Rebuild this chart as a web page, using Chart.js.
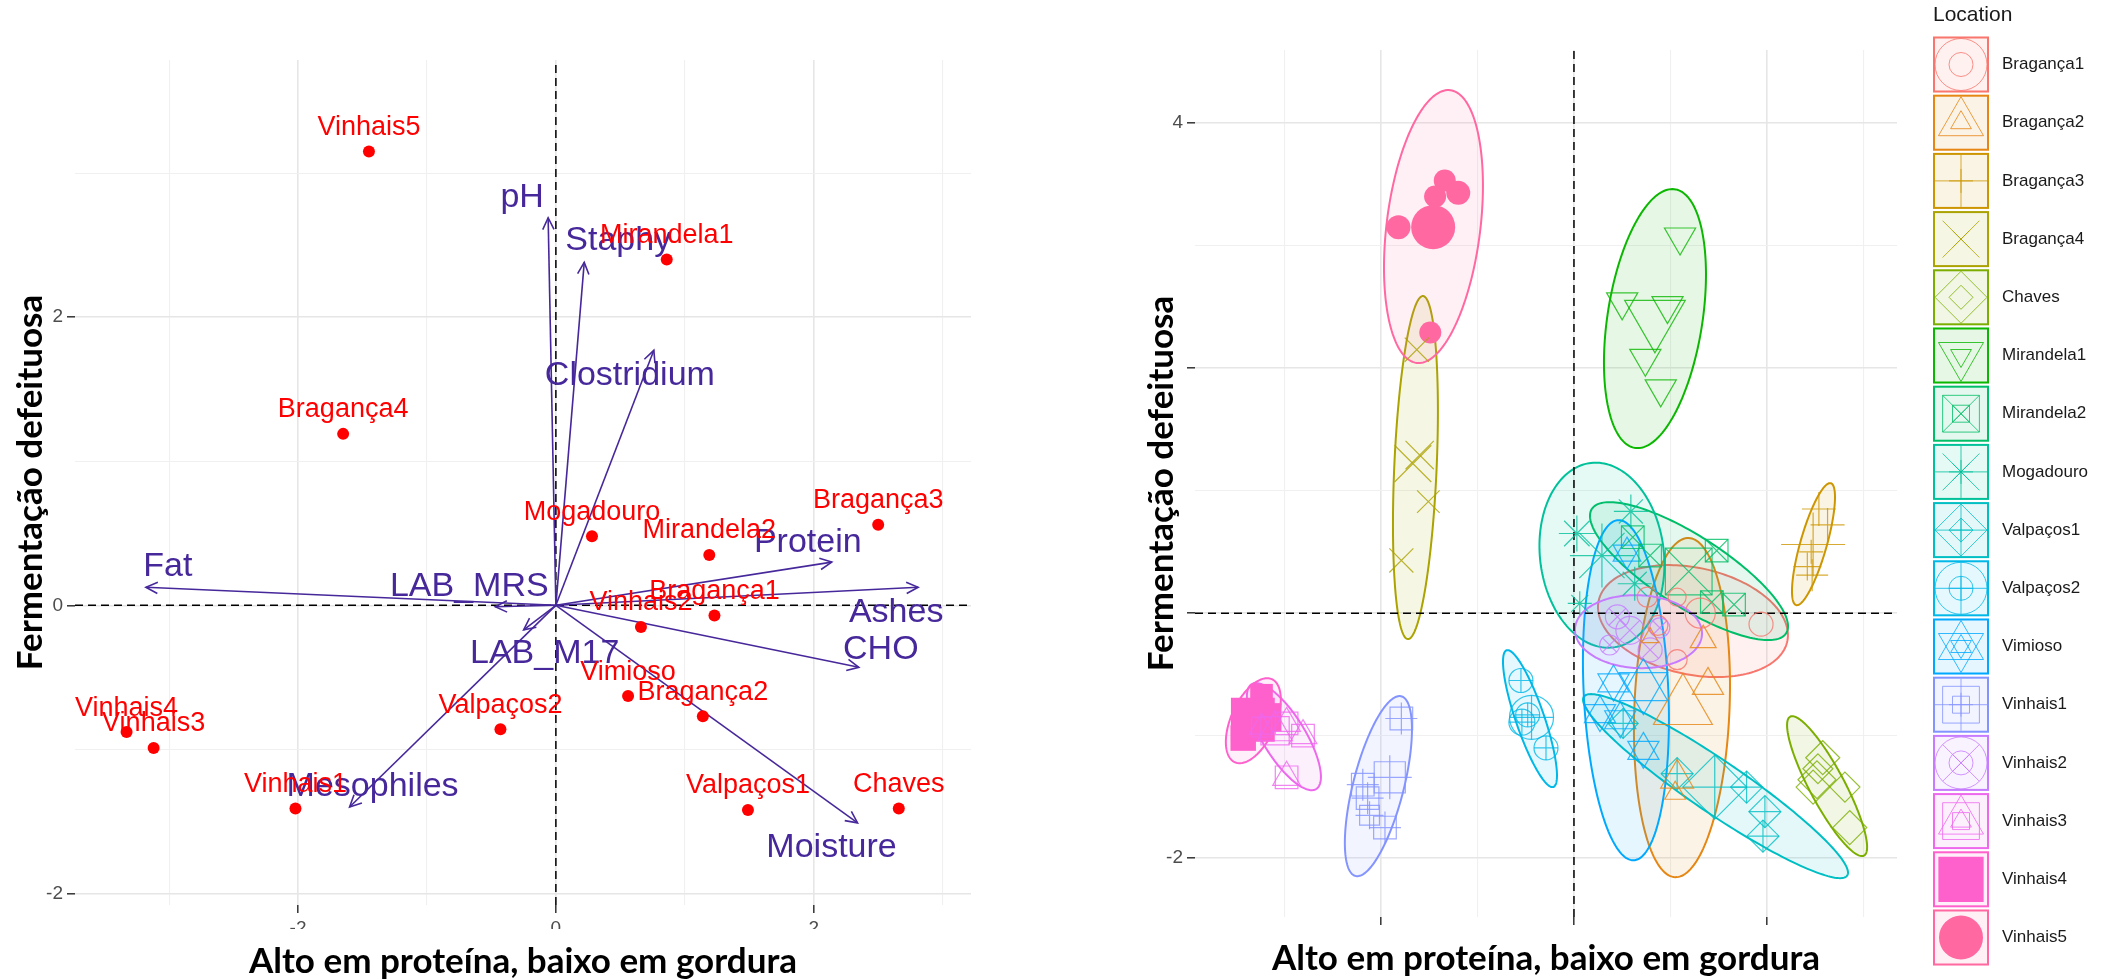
<!DOCTYPE html>
<html>
<head>
<meta charset="utf-8">
<script src="https://cdn.jsdelivr.net/npm/chart.js@4.4.1/dist/chart.umd.min.js"></script>
<style>
  html, body { margin: 0; padding: 0; background: #fff; }
  #wrap { position: relative; width: 2109px; height: 979px; overflow: hidden; }
  canvas { position: absolute; top: 0; }
  #biplot { left: 0; }
  #grupos { left: 1000px; }
</style>
</head>
<body>
<div id="wrap">
  <canvas id="biplot" width="1000" height="979"></canvas>
  <canvas id="grupos" width="1109" height="979"></canvas>
</div>
<script>
// ---------- painel esquerdo: biplot ----------
var amostras = ['Vinhais5', 'Mirandela1', 'Bragança4', 'Bragança3', 'Mogadouro', 'Mirandela2', 'Bragança1', 'Vinhais2',
                'Vimioso', 'Bragança2', 'Valpaços2', 'Vinhais4', 'Vinhais3', 'Vinhais1', 'Valpaços1', 'Chaves'];
var pc1 = [-1.45, 0.86, -1.65, 2.50, 0.28, 1.19, 1.23, 0.66, 0.56, 1.14, -0.43, -3.33, -3.12, -2.02, 1.49, 2.66];
var pc2 = [3.15, 2.40, 1.19, 0.56, 0.48, 0.35, -0.07, -0.15, -0.63, -0.77, -0.86, -0.88, -0.99, -1.41, -1.42, -1.41];

var variaveis = ['Fat', 'pH', 'Staphy', 'Clostridium', 'Protein', 'Ashes', 'CHO', 'Moisture', 'Mesophiles', 'LAB_MRS', 'LAB_M17'];
var cargaX = [-3.18, -0.06, 0.22, 0.76, 2.14, 2.81, 2.35, 2.34, -1.60, -0.47, -0.25];
var cargaY = [0.125, 2.69, 2.38, 1.77, 0.30, 0.125, -0.43, -1.51, -1.40, -0.01, -0.17];
// deslocamento do rótulo em relação à ponta da seta (px)
var rotuloDx = [22, -26, 34, -24, -24, -22, 22, -26, 23, -26, 21];
var rotuloDy = [-21, -20, -22, 25, -19, 25, -18, 25, -20, -20, 24];

var ticksEsqX = [-3, -2, -1, 0, 1, 2, 3];
var rotulosEsqX = ['', '-2', '', '0', '', '2', ''];
var ticksEsqY = [-2, -1, 0, 1, 2, 3];
var rotulosEsqY = ['-2', '', '0', '', '2', ''];

// ---------- painel direito: grupos por local ----------
var locais = ['Bragança1', 'Bragança2', 'Bragança3', 'Bragança4', 'Chaves', 'Mirandela1', 'Mirandela2', 'Mogadouro',
              'Valpaços1', 'Valpaços2', 'Vimioso', 'Vinhais1', 'Vinhais2', 'Vinhais3', 'Vinhais4', 'Vinhais5'];
var cores = ['#F8766D', '#E68613', '#CD9600', '#ABA300', '#7CAE00', '#0CB702', '#00BE67', '#00C19A',
             '#00BFC4', '#00B8E7', '#00A9FF', '#8494FF', '#C77CFF', '#ED68ED', '#FF61CC', '#FF68A1'];
var formas = [['circle'], ['triangle'], ['cross'], ['crossRot'], ['rectRot'], ['triangleDown'], ['rect', 'crossRot'], ['star'],
              ['rectRot', 'cross'], ['circle', 'cross'], ['triangle', 'triangleDown'], ['rect', 'cross'], ['circle', 'crossRot'],
              ['rect', 'triangle'], ['rectFilled'], ['circleFilled']];

var grupoX = [
  [0.76, 1.07, 1.31, 1.94, 1.07, 0.87],
  [1.34, 1.39, 1.13, 1.07, 1.05, 0.79],
  [2.54, 2.63, 2.48, 2.46, 2.42, 2.47],
  [-1.63, -1.67, -1.60, -1.51, -1.79],
  [2.58, 2.53, 2.52, 2.48, 2.81, 2.86],
  [1.10, 0.50, 0.97, 0.84, 0.74, 0.90],
  [0.61, 0.79, 1.19, 1.48, 1.43, 1.66],
  [0.03, 0.59, 0.29, 0.63, 0.06],
  [1.07, 1.46, 1.79, 1.98, 1.96, 0.51],
  [-0.55, -0.44, -0.54, -0.48, -0.29],
  [0.55, 0.41, 0.27, 0.48, 0.72, 0.72],
  [-1.79, -1.91, -2.19, -2.14, -2.12, -1.96],
  [0.45, 0.58, 0.37, 0.79, 0.89],
  [-2.98, -2.81, -3.10, -2.98, -3.24],
  [-3.24, -3.33, -3.43, -3.18],
  [-1.34, -1.20, -1.44, -1.46, -1.82, -1.49]
];
var grupoY = [
  [0.13, 0.13, 0.00, -0.09, -0.38, -0.10],
  [-0.22, -0.59, -0.77, -1.35, -1.47, -0.20],
  [0.85, 0.72, 0.56, 0.50, 0.38, 0.31],
  [2.15, 1.22, 1.29, 0.91, 0.43],
  [-1.18, -1.27, -1.36, -1.42, -1.42, -1.75],
  [3.07, 2.54, 2.51, 2.41, 2.08, 1.83],
  [0.62, 0.47, 0.34, 0.51, 0.09, 0.07],
  [0.65, 0.83, 0.47, 0.24, 0.08],
  [-1.31, -1.42, -1.42, -1.62, -1.82, -0.90],
  [-0.55, -0.85, -0.89, -0.83, -1.10],
  [0.49, -0.57, -0.82, -0.87, -0.60, -1.12],
  [-0.86, -1.34, -1.40, -1.51, -1.65, -1.75],
  [-0.03, -0.14, -0.26, -0.30, -0.12],
  [-0.90, -1.00, -0.96, -1.34, -0.93],
  [-0.67, -0.87, -1.02, -0.85],
  [3.53, 3.43, 3.40, 3.15, 3.15, 2.29]
];
var grupoTam = [
  [10, 9, 15, 12, 10, 10],
  [15, 18, 34, 19, 12, 10],
  [17, 17, 32, 12, 14, 16],
  [17, 26, 20, 16, 17],
  [17, 15, 19, 17, 15, 17],
  [18, 18, 18, 35, 18, 18],
  [16, 16, 33, 16, 16, 16],
  [18, 17, 32, 17, 12],
  [16, 32, 16, 16, 16, 15],
  [12, 22, 13, 12, 12],
  [16, 18, 18, 18, 28, 18],
  [16, 22, 16, 16, 14, 16],
  [12, 14, 10, 12, 10],
  [16, 16, 20, 16, 14],
  [16, 31, 18, 20],
  [11, 12, 11, 22, 12, 11]
];
// elipses: centro, desvio em x, desvio em y, correlação
var elipseCx  = [1.234, 1.12, 2.484, -1.644, 2.625, 0.840, 1.193, 0.29, 1.468, -0.456, 0.539, -2.028, 0.669, -3.008, -3.325, -1.457];
var elipseCy  = [-0.065, -0.771, 0.563, 1.188, -1.412, 2.404, 0.343, 0.473, -1.412, -0.861, -0.629, -1.412, -0.151, -1.008, -0.878, 3.155];
var elipseSx  = [0.985, 0.498, 0.223, 0.233, 0.415, 0.529, 1.027, 0.648, 1.374, 0.280, 0.446, 0.348, 0.659, 0.384, 0.285, 0.513];
var elipseSy  = [0.457, 1.384, 0.498, 1.40, 0.571, 1.057, 0.563, 0.755, 0.751, 0.559, 1.388, 0.735, 0.298, 0.437, 0.347, 1.114];
var elipseRho = [-0.25, 0.13, 0.77, 0.33, -0.87, 0.34, -0.8, -0.1, -0.94, -0.83, -0.17, 0.63, -0.05, -0.75, 0.5, 0.3];

var ticksDirX = [-3, -2, -1, 0, 1, 2, 3];
var rotulosDirX = ['', '', '', '', '', '', ''];
var ticksDirY = [-2, -1, 0, 1, 2, 3, 4];
var rotulosDirY = ['-2', '', '', '', '', '', '4'];

var tituloX = 'Alto em proteína, baixo em gordura';
var tituloY = 'Fermentação defeituosa';

var corCarga = '#46289b';
var fonteTicks = '"Liberation Sans Narrow", "Liberation Sans", Arial';

function rgba(hex, a) {
  var n = parseInt(hex.slice(1), 16);
  return 'rgba(' + (n >> 16) + ',' + ((n >> 8) & 255) + ',' + (n & 255) + ',' + a + ')';
}

function eixo(min, max, valores, rotulos, extra) {
  return Object.assign({
    type: 'linear', min: min, max: max,
    afterBuildTicks: function (s) { s.ticks = valores.map(function (v) { return { value: v }; }); },
    ticks: {
      autoSkip: false, maxRotation: 0, padding: 4, color: '#4d4d4d',
      font: { family: fonteTicks, size: 19 },
      callback: function (v) { return rotulos[valores.indexOf(v)]; }
    },
    grid: {
      color: function (c) { return c.tick && c.tick.value % 2 === 0 ? '#e6e6e6' : '#f0f0f0'; },
      lineWidth: function (c) { return c.tick && c.tick.value % 2 === 0 ? 1.6 : 1.1; },
      tickColor: function (c) { return c.tick && c.tick.value % 2 === 0 ? '#333333' : 'rgba(0,0,0,0)'; },
      tickWidth: 1.5, tickLength: 8
    },
    border: { display: false }
  }, extra);
}

function titulo(texto, pad) {
  return { display: true, text: texto, color: '#000',
           font: { family: 'Lato', weight: 'bold', size: 35, lineHeight: 1 }, padding: pad };
}

// ---------- biplot ----------
var biplotExtras = {
  id: 'biplotExtras',
  afterDatasetsDraw: function (chart) {
    var ctx = chart.ctx, sx = chart.scales.x, sy = chart.scales.y;
    var x0 = sx.getPixelForValue(0), y0 = sy.getPixelForValue(0);
    ctx.save();
    ctx.strokeStyle = corCarga;
    ctx.lineWidth = 1.6;
    variaveis.forEach(function (v, i) {
      var x1 = sx.getPixelForValue(cargaX[i]), y1 = sy.getPixelForValue(cargaY[i]);
      var a = Math.atan2(y1 - y0, x1 - x0);
      ctx.beginPath();
      ctx.moveTo(x1 - 13 * Math.cos(a - 0.45), y1 - 13 * Math.sin(a - 0.45));
      ctx.lineTo(x1, y1);
      ctx.lineTo(x1 - 13 * Math.cos(a + 0.45), y1 - 13 * Math.sin(a + 0.45));
      ctx.stroke();
    });
    ctx.textAlign = 'center';
    ctx.textBaseline = 'middle';
    ctx.fillStyle = corCarga;
    ctx.font = '34px "Liberation Sans", Arial';
    variaveis.forEach(function (v, i) {
      ctx.fillText(v, sx.getPixelForValue(cargaX[i]) + rotuloDx[i], sy.getPixelForValue(cargaY[i]) + rotuloDy[i]);
    });
    ctx.fillStyle = '#ff0000';
    ctx.font = '27px "Liberation Sans", Arial';
    amostras.forEach(function (s, i) {
      ctx.fillText(s, sx.getPixelForValue(pc1[i]), sy.getPixelForValue(pc2[i]) - 24);
    });
    ctx.restore();
  },
  afterDraw: function (chart) {
    // faixa branca que corta os rótulos do eixo x, como no original
    var ctx = chart.ctx;
    ctx.save();
    ctx.fillStyle = '#fff';
    ctx.fillRect(0, 929, chart.width, 18);
    ctx.restore();
  }
};

var datasetsEsq = [
  { data: pc1.map(function (x, i) { return { x: x, y: pc2[i] }; }),
    pointRadius: 6, pointBackgroundColor: '#ff0000', pointBorderWidth: 0, order: 1 }
];
variaveis.forEach(function (v, i) {
  datasetsEsq.push({ data: [{ x: 0, y: 0 }, { x: cargaX[i], y: cargaY[i] }], showLine: true,
    borderColor: corCarga, borderWidth: 1.6, pointRadius: 0, order: 2 });
});
datasetsEsq.push({ data: [{ x: 0, y: -2.08 }, { x: 0, y: 3.785 }], showLine: true, borderColor: '#000',
  borderWidth: 1.5, borderDash: [8, 5], pointRadius: 0, order: 3 });
datasetsEsq.push({ data: [{ x: -3.73, y: 0 }, { x: 3.22, y: 0 }], showLine: true, borderColor: '#000',
  borderWidth: 1.5, borderDash: [8, 5], pointRadius: 0, order: 3 });

new Chart(document.getElementById('biplot'), {
  type: 'scatter',
  data: { datasets: datasetsEsq },
  options: {
    responsive: false, animation: false, events: [],
    layout: { padding: { left: 0, top: 60, right: 29, bottom: 0 } },
    plugins: { legend: { display: false }, tooltip: { enabled: false } },
    scales: {
      x: eixo(-3.73, 3.22, ticksEsqX, rotulosEsqX, {
        title: titulo(tituloX, { top: 0, bottom: 0 }),
        afterFit: function (s) { s.height = 74; }
      }),
      y: eixo(-2.08, 3.785, ticksEsqY, rotulosEsqY, {
        title: titulo(tituloY, { top: 13, bottom: 0 }),
        afterFit: function (s) { s.width = 75; }
      })
    }
  },
  plugins: [biplotExtras]
});

// ---------- grupos com elipses ----------
function estiloPonto(f) {
  if (f === 'triangleDown') return { style: 'triangle', rot: 180, cheio: false };
  if (f === 'rectFilled') return { style: 'rect', rot: 0, cheio: true };
  if (f === 'circleFilled') return { style: 'circle', rot: 0, cheio: true };
  return { style: f, rot: 0, cheio: false };
}

var elipses = {
  id: 'elipses',
  beforeDatasetsDraw: function (chart) {
    var ctx = chart.ctx, sx = chart.scales.x, sy = chart.scales.y;
    ctx.save();
    locais.forEach(function (n, g) {
      var r = elipseRho[g], q = Math.sqrt(1 - r * r);
      ctx.beginPath();
      for (var k = 0; k <= 180; k++) {
        var t = k / 180 * 2 * Math.PI;
        var x = elipseCx[g] + elipseSx[g] * Math.cos(t);
        var y = elipseCy[g] + elipseSy[g] * (r * Math.cos(t) + q * Math.sin(t));
        var px = sx.getPixelForValue(x), py = sy.getPixelForValue(y);
        if (k === 0) ctx.moveTo(px, py); else ctx.lineTo(px, py);
      }
      ctx.closePath();
      ctx.fillStyle = rgba(cores[g], 0.1);
      ctx.fill();
      ctx.strokeStyle = cores[g];
      ctx.lineWidth = 2;
      ctx.stroke();
    });
    ctx.restore();
  },
  afterDraw: function (chart) {
    // legenda "Location"
    var ctx = chart.ctx, x0 = 933, topo = 36.5, passo = 58.2, lado = 56;
    ctx.save();
    ctx.textAlign = 'left';
    ctx.textBaseline = 'middle';
    ctx.fillStyle = '#1a1a1a';
    ctx.font = '21px "Liberation Sans", Arial';
    ctx.fillText('Location', x0, 15);
    locais.forEach(function (n, g) {
      var y = topo + g * passo, cx = x0 + lado / 2, cy = y + lado / 2;
      ctx.fillStyle = rgba(cores[g], 0.1);
      ctx.fillRect(x0, y, lado, lado);
      ctx.strokeStyle = cores[g];
      ctx.lineWidth = 2;
      ctx.strokeRect(x0 + 1, y + 1, lado - 2, lado - 2);
      formas[g].forEach(function (f) {
        var e = estiloPonto(f);
        var raios = e.cheio ? [e.style === 'rect' ? 32 : 22] : [26, 12];
        raios.forEach(function (rad) {
          ctx.fillStyle = e.cheio ? cores[g] : 'rgba(0,0,0,0)';
          ctx.strokeStyle = rgba(cores[g], 0.8);
          ctx.lineWidth = 1;
          Chart.helpers.drawPoint(ctx, { pointStyle: e.style, rotation: e.rot, radius: rad, borderWidth: e.cheio ? 0 : 1 }, cx, cy);
        });
      });
      ctx.fillStyle = '#1a1a1a';
      ctx.font = '17px "Liberation Sans", Arial';
      ctx.fillText(n, 1002, cy);
    });
    ctx.restore();
  }
};

var datasetsDir = [];
locais.forEach(function (n, g) {
  formas[g].forEach(function (f) {
    var e = estiloPonto(f);
    datasetsDir.push({
      label: n,
      data: grupoX[g].map(function (x, i) { return { x: x, y: grupoY[g][i] }; }),
      pointStyle: e.style, pointRotation: e.rot,
      pointRadius: grupoTam[g],
      pointBorderColor: rgba(cores[g], 0.8),
      pointBackgroundColor: e.cheio ? cores[g] : 'rgba(0,0,0,0)',
      pointBorderWidth: e.cheio ? 0 : 1.2,
      order: 1
    });
  });
});
datasetsDir.push({ data: [{ x: 0, y: -2.48 }, { x: 0, y: 4.596 }], showLine: true, borderColor: '#000',
  borderWidth: 1.5, borderDash: [8, 5], pointRadius: 0, order: 2 });
datasetsDir.push({ data: [{ x: -3.93, y: 0 }, { x: 3.35, y: 0 }], showLine: true, borderColor: '#000',
  borderWidth: 1.5, borderDash: [8, 5], pointRadius: 0, order: 2 });

new Chart(document.getElementById('grupos'), {
  type: 'scatter',
  data: { datasets: datasetsDir },
  options: {
    responsive: false, animation: false, events: [],
    layout: { padding: { left: 0, top: 50, right: 212, bottom: 0 } },
    plugins: { legend: { display: false }, tooltip: { enabled: false } },
    scales: {
      x: eixo(-3.93, 3.35, ticksDirX, rotulosDirX, {
        title: titulo(tituloX, { top: 0, bottom: 3 }),
        afterFit: function (s) { s.height = 62; }
      }),
      y: eixo(-2.48, 4.596, ticksDirY, rotulosDirY, {
        title: titulo(tituloY, { top: 144, bottom: 0 }),
        afterFit: function (s) { s.width = 195; }
      })
    }
  },
  plugins: [elipses]
});
</script>
</body>
</html>
